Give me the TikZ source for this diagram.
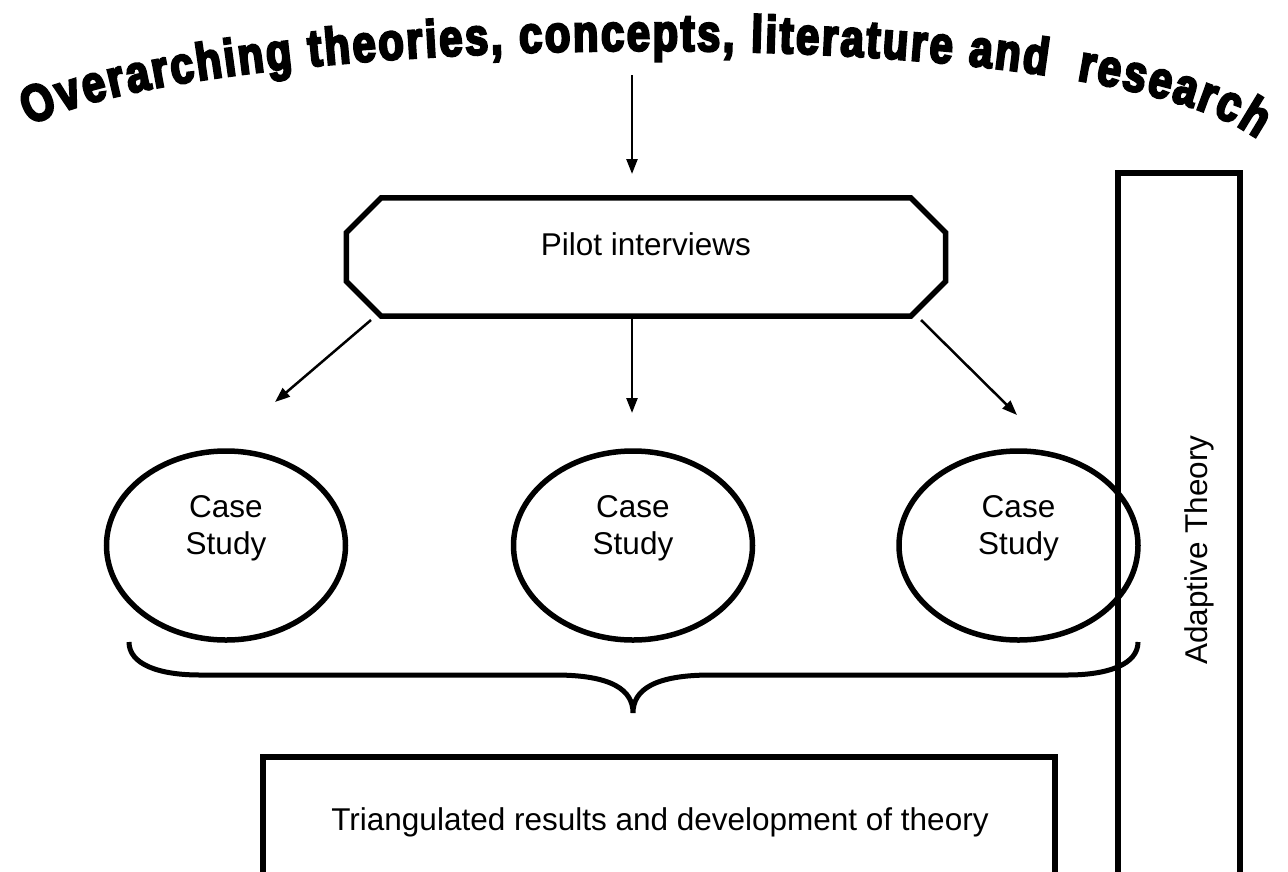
\documentclass[tikz,border=0pt]{standalone}
\usepackage{fontspec}
\setmainfont{Liberation Sans}
\newfontfamily\titlefont{Liberation Sans Bold}[FakeBold=4.5,FakeStretch=0.8]
\usetikzlibrary{arrows.meta,decorations.text,calc,shapes.geometric}
\begin{document}
\begin{tikzpicture}[x=1pt,y=-1pt,
  boxline/.style={line width=5.5pt,line join=miter},
  arr/.style={line width=2.5pt,-{Triangle[length=15pt,width=11pt]}},
  lbl/.style={font=\fontsize{31.5}{36.5}\selectfont,align=center,inner sep=0pt},
  casenode/.style={ellipse,draw,line width=5.5pt,minimum width=239pt,minimum height=189pt,inner sep=0pt}]
\useasboundingbox (0,0) rectangle (1288,871);
% title
\path[decorate,decoration={text along path,
  text={|\titlefont\fontsize{52}{56}\selectfont|Overarching theories, concepts, literature and{\ }{\ }research},
  text align=fit to path}]
  (30,126) .. controls (200,32) and (1085,15) .. (1256,138);
\coordinate (t1) at (632,75);
\coordinate (t2) at (632,174);
% pilot
\node[minimum width=599pt,minimum height=118pt,inner sep=0pt] (pilot) at (646,257) {};
\node[lbl,anchor=base] (pilottext) at (646,255) {Pilot interviews};
\draw[boxline] ($(pilot.north west)+(35,0)$) -- ($(pilot.north east)+(-35,0)$)
  -- ($(pilot.north east)+(0,35)$) -- ($(pilot.south east)+(0,-35)$)
  -- ($(pilot.south east)+(-35,0)$) -- ($(pilot.south west)+(35,0)$)
  -- ($(pilot.south west)+(0,-35)$) -- ($(pilot.north west)+(0,35)$) -- cycle;
\draw[arr] (t1) -- (t2);
% case studies
\node[casenode] (c1) at (226,545.5) {};
\node[casenode] (c2) at (633,545.5) {};
\node[casenode] (c3) at (1018.5,545.5) {};
\node[lbl] (c1t) at ($(c1)+(0,-17)$) {Case\\Study};
\node[lbl] (c2t) at ($(c2)+(0,-17)$) {Case\\Study};
\node[lbl] (c3t) at ($(c3)+(0,-17)$) {Case\\Study};
\coordinate (p1) at (371,320);
\coordinate (p3) at (921,320);
\coordinate (e1) at (275,402);
\coordinate (e2) at (632,413);
\coordinate (e3) at (1017,415);
\draw[arr] (p1) -- (e1);
\draw[arr] (pilot.south -| e2) -- (e2);
\draw[arr] (p3) -- (e3);
% brace
\coordinate (bl) at (129,642);
\coordinate (br) at (1138,642);
\coordinate (bc) at (633,713);
\draw[line width=5pt] (bl) .. controls (129,664) and (158,675) .. (200,675) -- (555,675)
  .. controls (612,675) and (633,690) .. (bc)
  .. controls (633,690) and (654,675) .. (711,675) -- (1067,675)
  .. controls (1109,675) and (1138,664) .. (br);
% adaptive theory
\draw[boxline] (1118,880) -- (1118,173) -- (1240,173) -- (1240,880);
\node[lbl,rotate=90] (adapt) at (1199.5,550) {Adaptive Theory};
% triangulated
\draw[boxline] (263,880) -- (263,757) -- (1055,757) -- (1055,880);
\node[lbl] (tri) at (660,822) {Triangulated results and development of theory};
\end{tikzpicture}
\end{document}
